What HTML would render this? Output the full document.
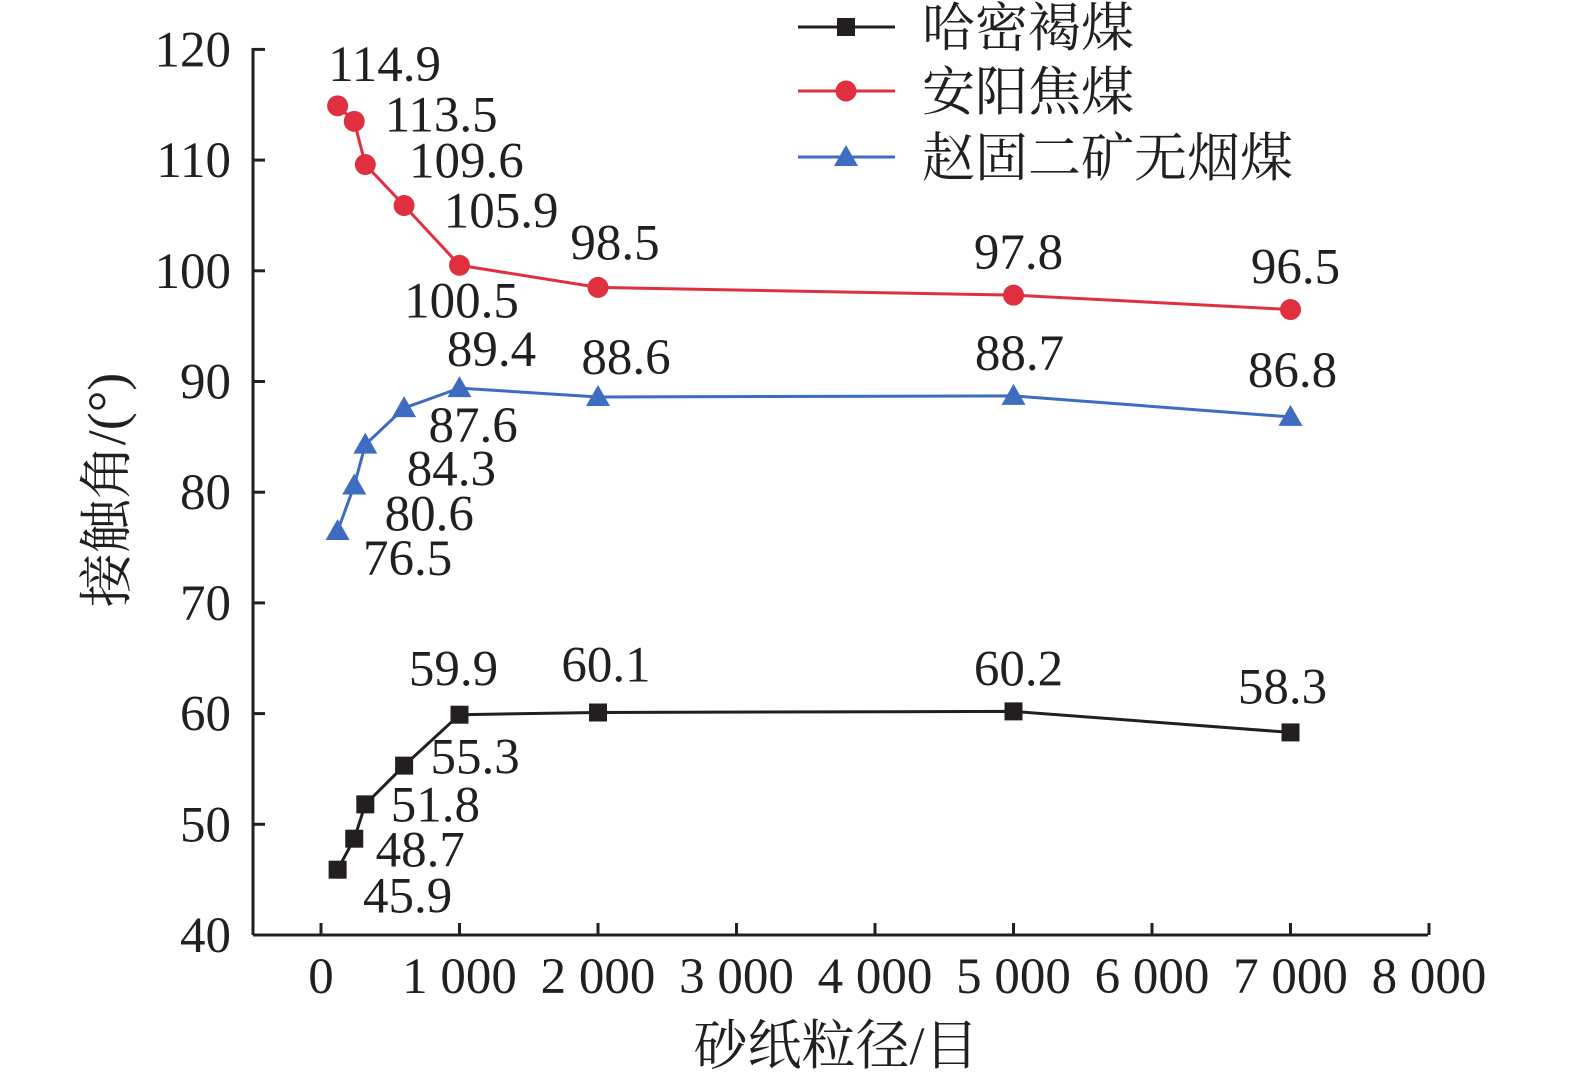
<!DOCTYPE html>
<html><head><meta charset="utf-8"><style>
html,body{margin:0;padding:0;background:#fff;width:1575px;height:1085px;overflow:hidden}
svg text{font-family:"Liberation Serif","Noto Serif CJK SC",serif;fill:#231f20}
</style></head><body>
<svg id="chart" width="1575" height="1085" xmlns="http://www.w3.org/2000/svg"></svg>
<script>
const xValues=[120,240,320,600,1000,2000,5000,7000];
const hamiValues=[45.9,48.7,51.8,55.3,59.9,60.1,60.2,58.3];
const anyangValues=[114.9,113.5,109.6,105.9,100.5,98.5,97.8,96.5];
const zhaoguValues=[76.5,80.6,84.3,87.6,89.4,88.6,88.7,86.8];
const xTicks=[0,1000,2000,3000,4000,5000,6000,7000,8000];
const xTickLabels=["0","1 000","2 000","3 000","4 000","5 000","6 000","7 000","8 000"];
const yTicks=[40,50,60,70,80,90,100,110,120];
const seriesNames=["哈密褐煤","安阳焦煤","赵固二矿无烟煤"];

const svg=document.getElementById('chart');
const NS='http://www.w3.org/2000/svg';
const X0=253,Y0=935;
function xs(v){return 321+v*0.1385;}
function ys(v){return Y0-(v-40)*11.07;}
function mk(t,a,p){const e=document.createElementNS(NS,t);for(const k in a)e.setAttribute(k,a[k]);(p||svg).appendChild(e);return e;}

let ax=mk('line',{x1:X0,y1:Y0,x2:1428,y2:Y0,stroke:'#231f20','stroke-width':3});

let ay=mk('line',{x1:X0,y1:Y0,x2:X0,y2:48,stroke:'#231f20','stroke-width':3});

xTicks.forEach((v,i)=>{
  const x=xs(v);
  const t=mk('line',{x1:x,y1:Y0,x2:x,y2:Y0-12,stroke:'#231f20','stroke-width':3});
  
  const l=mk('text',{x:x,y:993,'font-size':51,'text-anchor':'middle'});l.textContent=xTickLabels[i];
  
});
yTicks.forEach(v=>{
  const y=ys(v);
  const t=mk('line',{x1:X0,y1:y,x2:X0+12,y2:y,stroke:'#231f20','stroke-width':3});
  
  const l=mk('text',{x:231,y:y+17,'font-size':51,'text-anchor':'end'});l.textContent=String(v);
  
});
let yt=mk('text',{x:0,y:0,'font-size':54,'text-anchor':'middle',transform:'translate(125,490) rotate(-90)'});
yt.textContent='接触角/(°)';
let xt=mk('text',{x:836,y:1064,'font-size':54,'text-anchor':'middle'});
xt.textContent='砂纸粒径/目';

function marker(type,x,y,color,name){
  let m;
  if(type==='sq')m=mk('rect',{x:x-9,y:y-9,width:18,height:18,fill:color});
  else if(type==='ci')m=mk('circle',{cx:x,cy:y,r:10.5,fill:color});
  else m=mk('polygon',{points:`${x},${y-12} ${x-12},${y+9} ${x+12},${y+9}`,fill:color});
  
}
// label offsets (center dx, baseline dy) per point — styling only
const offs={
 ham:[[70,43],[66,28],[70,17],[71,8],[-6,-29],[8,-31],[5,-26],[-8,-29]],
 any:[[47,-25],[87,10],[101,13],[97,22],[2,52],[17,-28],[5,-26],[5,-26]],
 zha:[[70,44],[75,45],[86,41],[69,34],[32,-22],[28,-23],[6,-26],[2,-30]]
};
function series(vals,color,type,key,name){
  const pts=vals.map((v,i)=>[xs(xValues[i]),ys(v)]);
  const pl=mk('polyline',{points:pts.map(p=>p.join(',')).join(' '),fill:'none',stroke:color,'stroke-width':3});
  
  pts.forEach((p,i)=>{
    marker(type,p[0],p[1],color,name+'-point');
    const o=offs[key][i];
    const t=mk('text',{x:p[0]+o[0],y:p[1]+o[1],'font-size':51,'text-anchor':'middle'});
    t.textContent=vals[i].toFixed(1);
    
  });
}
series(hamiValues,'#231f20','sq','ham','hami-lignite');
series(anyangValues,'#e03040','ci','any','anyang-coking-coal');
series(zhaoguValues,'#3d6cc0','tr','zha','zhaogu-anthracite');

const lg=[['#231f20','sq',27],['#e03040','ci',91],['#3d6cc0','tr',157]];
lg.forEach((l,i)=>{
  const ln=mk('line',{x1:798,y1:l[2],x2:895,y2:l[2],stroke:l[0],'stroke-width':3});
  
  marker(l[1],846,l[2],l[0],'legend-marker');
  const t=mk('text',{x:922,y:l[2]+19,'font-size':53});t.textContent=seriesNames[i];
  
});
</script>
</body></html>
